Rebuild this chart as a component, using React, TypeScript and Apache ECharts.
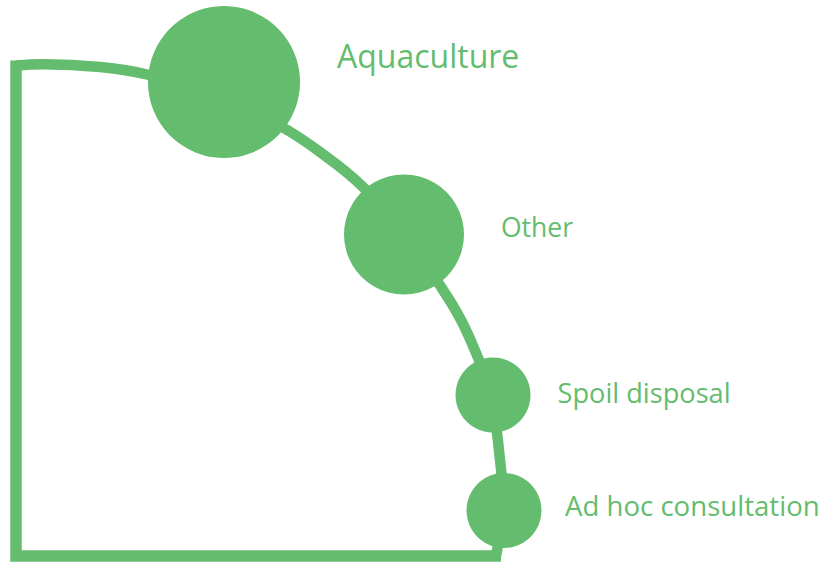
import React, { useEffect, useRef } from "react";
import * as echarts from "echarts";

// Categories and bubble data
const categories = ["Aquaculture", "Other", "Spoil disposal", "Ad hoc consultation"];
const bubbleX = [224, 404, 493, 504];
const bubbleY = [82, 234.5, 395, 510.5];
const bubbleSizes = [152, 120, 75, 75];

// Arc (curve) points the bubbles sit on
const arcX = [16, 43, 100, 147, 220, 282, 320, 362, 404, 443, 461, 476, 492, 497, 500, 502, 503, 498, 496];
const arcY = [65.5, 64.2, 67, 74.5, 97, 127, 152, 186, 234, 290, 320, 353, 395, 433, 460, 480, 510, 545, 556];

// Frame (left & bottom edges)
const frameX = [16, 16, 501];
const frameY = [60.5, 556, 556];

const GREEN = "#64BC6E";
const FONT = "'Open Sans', sans-serif";

// label layout (style)
const labelFontSizes = [32, 26.5, 27.2, 27.6];
const labelDistances = [37, 37, 27, 23.5];
const labelOffsetY = [-27, -8, -3, -6];

export default function App() {
  const ref = useRef<HTMLDivElement>(null);
  useEffect(() => {
    if (!ref.current) return;
    const chart = echarts.init(ref.current, undefined, { renderer: "svg" });
    chart.setOption({
      animation: false,
      backgroundColor: "#ffffff",
      grid: { left: 0, right: 0, top: 0, bottom: 0, containLabel: false },
      xAxis: { type: "value", min: 0, max: 827, show: false },
      yAxis: { type: "value", min: 0, max: 563, inverse: true, show: false },
      series: [
        {
          type: "line",
          data: frameX.map((x, i) => [x, frameY[i]]),
          symbol: "none",
          lineStyle: { color: GREEN, width: 11.5, join: "miter", cap: "butt" },
          z: 1,
        },
        {
          type: "line",
          data: arcX.map((x, i) => [x, arcY[i]]),
          symbol: "none",
          smooth: 0.4,
          lineStyle: { color: GREEN, width: 10.5, cap: "butt" },
          z: 1,
        },
        {
          type: "scatter",
          z: 2,
          symbolSize: (val: number[]) => val[2],
          itemStyle: { color: GREEN, opacity: 1 },
          data: categories.map((name, i) => ({
            name,
            value: [bubbleX[i], bubbleY[i], bubbleSizes[i]],
            label: {
              show: true,
              position: "right",
              distance: labelDistances[i],
              offset: [0, labelOffsetY[i]],
              formatter: "{b}",
              color: GREEN,
              fontFamily: FONT,
              fontSize: labelFontSizes[i],
            },
          })),
        },
      ],
    });
    return () => chart.dispose();
  }, []);
  return (
    <div
      ref={ref}
      style={{ position: "fixed", left: 0, top: 0, width: 827, height: 563 }}
    />
  );
}
